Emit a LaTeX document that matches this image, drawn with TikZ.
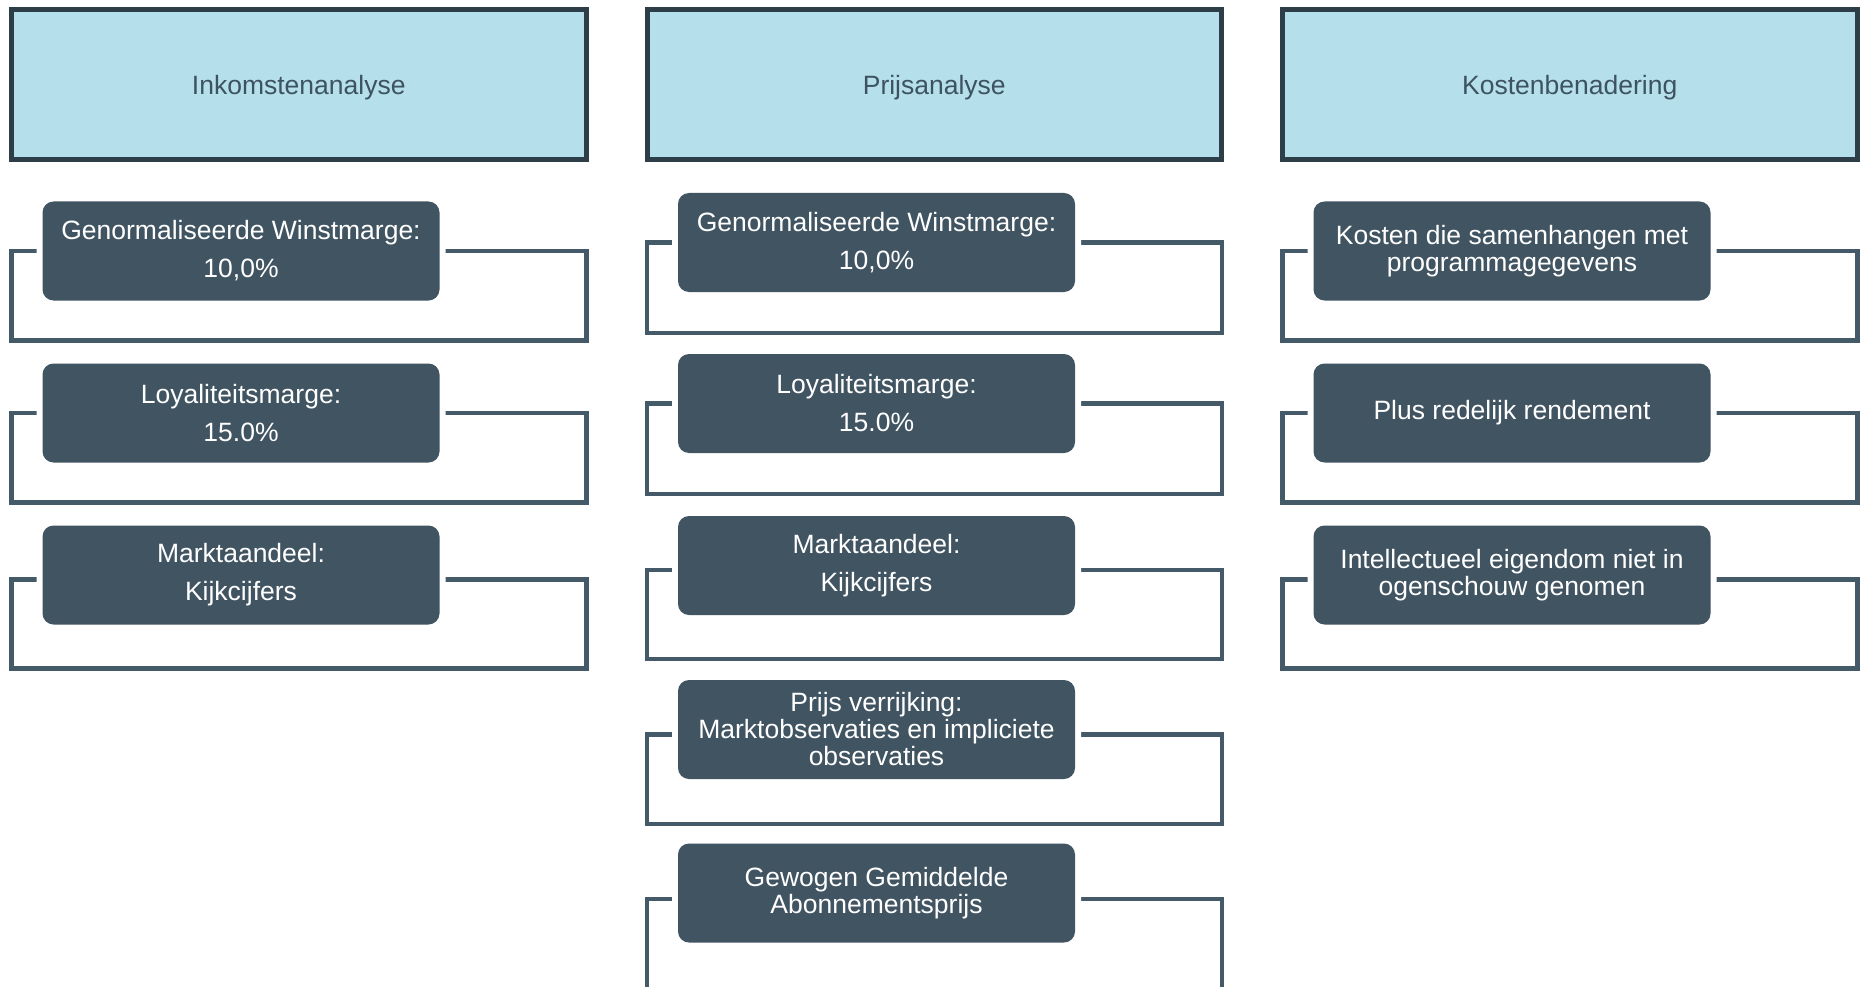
\documentclass[tikz,border=0pt]{standalone}
\usepackage{fontspec}
\setmainfont{Liberation Sans}
\usetikzlibrary{calc}
\definecolor{hdrfill}{HTML}{B4DFEB}
\definecolor{hdrline}{HTML}{2D3E48}
\definecolor{hdrtext}{HTML}{3E5361}
\definecolor{boxfill}{HTML}{415462}
\definecolor{frmcol}{HTML}{455A68}
\pgfdeclarelayer{bg}
\pgfsetlayers{bg,main}
\tikzset{
  hdr/.style={rectangle, draw=hdrline, line width=5pt, fill=hdrfill, text=hdrtext,
    minimum width=574.5pt, minimum height=150pt, inner sep=0pt, outer sep=0pt,
    text depth=0pt, font=\fontsize{26.5}{27}\selectfont},
  itembox/.style={rectangle, rounded corners=11pt, fill=boxfill, text=white,
    minimum width=397pt, minimum height=99pt, inner sep=0pt, outer sep=0pt,
    align=center, font=\fontsize{26.5}{27}\selectfont,
    preaction={draw=white, line width=12pt}},
  frm/.style={draw=frmcol, line width=4.5pt}
}
\begin{document}
\begin{tikzpicture}[x=1pt, y=-1pt]
\useasboundingbox (0,0) rectangle (1865,987);
\clip (0,0) rectangle (1865,987);
% headers
\node[hdr] (h1) at (298.75,84.5) {Inkomstenanalyse};
\node[hdr] (h2) at (934.25,84.5) {Prijsanalyse};
\node[hdr] (h3) at (1569.75,84.5) {Kostenbenadering};
% frame x positions
\coordinate (la) at (11.25,0);   \coordinate (ra) at (586.25,0);
\coordinate (lb) at (646.75,0);  \coordinate (rb) at (1221.75,0);
\coordinate (lc) at (1282.25,0); \coordinate (rc) at (1857.25,0);
% left column
\node[itembox] (a1) at (241,251) {Genormaliseerde Winstmarge:\\[11pt]10,0\%};
\node[itembox] (a2) at (241,413) {Loyaliteitsmarge:\\[11pt]15.0\%};
\node[itembox] (a3) at (241,575) {Marktaandeel:\\[11pt]Kijkcijfers};
% middle column
\node[itembox] (b1) at (876.5,242.5) {Genormaliseerde Winstmarge:\\[11pt]10,0\%};
\node[itembox] (b2) at (876.5,403.5) {Loyaliteitsmarge:\\[11pt]15.0\%};
\node[itembox] (b3) at (876.5,565.5) {Marktaandeel:\\[11pt]Kijkcijfers};
\node[itembox] (b4) at (876.5,729.5) {Prijs verrijking:\\Marktobservaties en impliciete\\observaties};
\node[itembox] (b5) at (876.5,893) {Gewogen Gemiddelde\\Abonnementsprijs};
% right column
\node[itembox] (c1) at (1512,251) {Kosten die samenhangen met\\programmagegevens};
\node[itembox] (c2) at (1512,413) {Plus redelijk rendement};
\node[itembox] (c3) at (1512,575) {Intellectueel eigendom niet in\\ogenschouw genomen};
% frames (d = downward offset of the bracket)
\begin{pgfonlayer}{bg}
\foreach \n/\l/\r/\d/\e in {a1/la/ra/0/40, a2/la/ra/0/40, a3/la/ra/4.5/44,
                      b1/lb/rb/0/41, b2/lb/rb/0/41, b3/lb/rb/4.5/44, b4/lb/rb/5/45,
                      b5/lb/rb/6/48,
                      c1/lc/rc/0/40, c2/lc/rc/0/40, c3/lc/rc/4.5/44}{
  \coordinate (tl) at ($(\n.west)+(0,\d)$);
  \coordinate (tr) at ($(\n.east)+(0,\d)$);
  \coordinate (bt) at ($(\n.south)+(0,\e)$);
  \draw[frm] (tl) -- (tl -| \l) |- (bt) -| (tr -| \r) -- (tr);
}
\end{pgfonlayer}
\end{tikzpicture}
\end{document}
